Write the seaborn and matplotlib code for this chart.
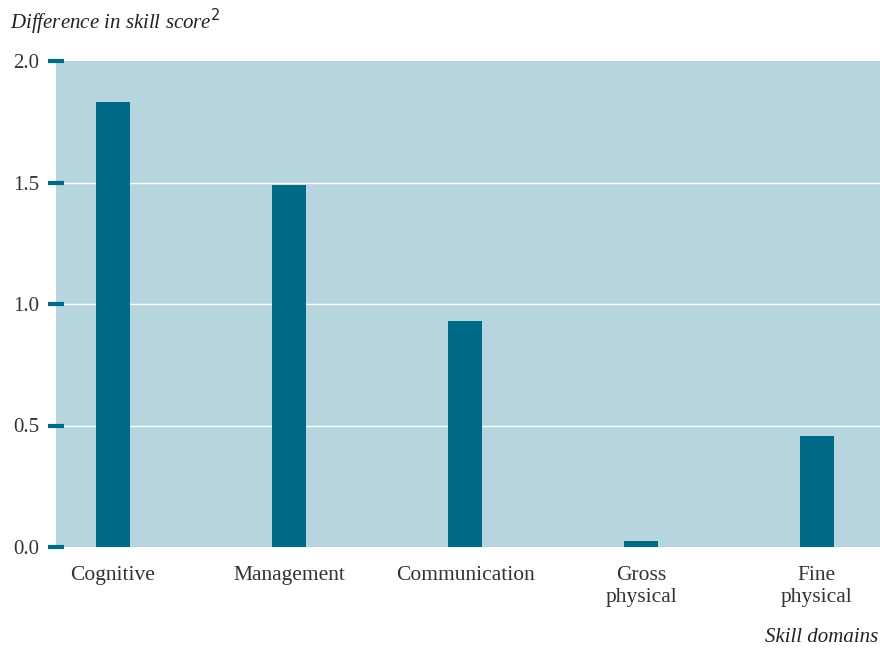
import seaborn as sns
import matplotlib.pyplot as plt
import pandas as pd

domains = ['Cognitive', 'Management', 'Communication', 'Gross\nphysical', 'Fine\nphysical']
diff = [1.83, 1.49, 0.93, 0.025, 0.455]

df = pd.DataFrame({'domain': domains, 'diff': diff})

sns.set_style('white')
plt.rcParams['font.family'] = ['Liberation Serif', 'DejaVu Serif']

bar_col = '#006b86'
bg_col = '#b7d5df'
txt_col = '#333333'

fig = plt.figure(figsize=(8.8, 6.48), dpi=100)
ax = fig.add_axes([56/880, 1 - 547/648, 824/880, 486/648])
ax.set_facecolor(bg_col)

sns.barplot(data=df, x='domain', y='diff', color=bar_col, saturation=1, width=0.19,
            linewidth=0, ax=ax)

ax.set_ylim(0, 2.0)
ax.set_xlim(-0.324, 4.358)
ax.set_yticks([0, 0.5, 1.0, 1.5, 2.0])
ax.set_yticklabels(['0.0', '0.5', '1.0', '1.5', '2.0'])
for y in [0.5, 1.0, 1.5]:
    ax.axhline(y, color='white', lw=1, zorder=0.5)
ax.set_axisbelow(True)
for s in ax.spines.values():
    s.set_visible(False)
ax.tick_params(axis='y', left=True, direction='inout', length=12, width=3, color=bar_col,
               labelsize=15, labelcolor=txt_col, pad=6)
ax.tick_params(axis='x', bottom=False, length=0, labelsize=15.5, labelcolor=txt_col, pad=14)
ax.set_xlabel('')
ax.set_ylabel('')

fig.text(10/880, 1 - 22/648, 'Difference in skill score$^2$', fontsize=15, style='italic',
         color='#222222', ha='left', va='center')
fig.text(878/880, 1 - 638/648, 'Skill domains', fontsize=15, style='italic',
         color='#222222', ha='right', va='center')

plt.savefig('out.png', dpi=100)
